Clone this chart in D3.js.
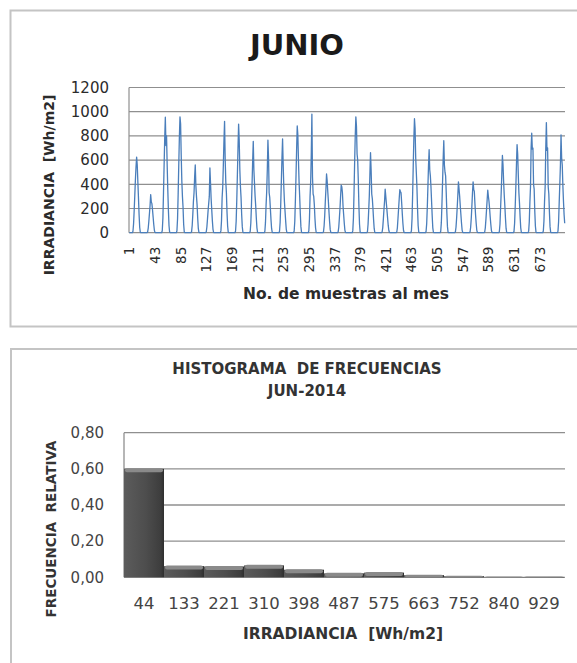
<!DOCTYPE html>
<html>
<head>
<meta charset="utf-8">
<script src="https://cdn.jsdelivr.net/npm/d3@7"></script>
<style>
  html, body { margin: 0; padding: 0; background: #ffffff; }
  svg { display: block; font-family: "DejaVu Sans", "Liberation Sans", sans-serif; }
</style>
</head>
<body>
<svg id="chart" width="577" height="663"></svg>
<script>
// Hourly irradiance for June 2014 [Wh/m2], one array per day (hours 0-23)
const day01 = [0,0,0,0,0,0,12,75,185,310,440,545,625,560,420,290,150,45,4,0,0,0,0,0];
const day02 = [0,0,0,0,0,0,6,38,95,160,225,315,255,240,190,130,70,22,2,0,0,0,0,0];
const day03 = [0,0,0,0,0,0,18,120,330,560,780,955,720,800,560,360,190,60,6,0,0,0,0,0];
const day04 = [0,0,0,0,0,0,16,115,320,560,790,958,900,640,430,300,210,70,6,0,0,0,0,0];
const day05 = [0,0,0,0,0,0,9,60,150,260,330,460,560,390,300,230,120,35,3,0,0,0,0,0];
const day06 = [0,0,0,0,0,0,7,45,110,180,240,300,535,410,280,190,100,30,3,0,0,0,0,0];
const day07 = [0,0,0,0,0,0,15,100,290,380,560,760,920,610,420,330,170,55,5,0,0,0,0,0];
const day08 = [0,0,0,0,0,0,14,95,270,480,700,898,760,520,380,290,150,50,5,0,0,0,0,0];
const day09 = [0,0,0,0,0,0,12,80,220,400,590,755,520,410,300,220,120,40,4,0,0,0,0,0];
const day10 = [0,0,0,0,0,0,12,85,230,340,520,765,620,330,290,200,110,35,4,0,0,0,0,0];
const day11 = [0,0,0,0,0,0,12,85,240,430,620,775,560,380,260,180,100,30,3,0,0,0,0,0];
const day12 = [0,0,0,0,0,0,14,95,270,470,690,882,810,600,420,300,160,50,5,0,0,0,0,0];
const day13 = [0,0,0,0,0,0,16,110,300,420,650,980,460,320,300,230,120,40,4,0,0,0,0,0];
const day14 = [0,0,0,0,0,0,8,55,140,260,360,485,430,340,260,170,90,25,2,0,0,0,0,0];
const day15 = [0,0,0,0,0,0,7,45,120,200,300,392,380,330,220,150,80,22,2,0,0,0,0,0];
const day16 = [0,0,0,0,0,0,17,120,330,580,800,958,880,650,600,430,220,70,6,0,0,0,0,0];
const day17 = [0,0,0,0,0,0,10,70,180,300,480,662,520,320,280,200,110,35,3,0,0,0,0,0];
const day18 = [0,0,0,0,0,0,6,40,110,190,260,360,300,240,180,120,60,18,2,0,0,0,0,0];
const day19 = [0,0,0,0,0,0,6,40,120,200,280,355,340,330,250,160,80,20,2,0,0,0,0,0];
const day20 = [0,0,0,0,0,0,16,115,320,560,780,942,860,620,500,380,200,60,6,0,0,0,0,0];
const day21 = [0,0,0,0,0,0,11,75,210,380,560,686,520,470,380,260,140,40,4,0,0,0,0,0];
const day22 = [0,0,0,0,0,0,12,85,240,420,610,760,560,500,470,330,170,50,5,0,0,0,0,0];
const day23 = [0,0,0,0,0,0,7,45,120,210,310,420,360,300,220,150,80,22,2,0,0,0,0,0];
const day24 = [0,0,0,0,0,0,7,45,120,220,330,420,360,340,240,150,80,22,2,0,0,0,0,0];
const day25 = [0,0,0,0,0,0,6,40,110,190,270,352,300,260,200,130,70,18,2,0,0,0,0,0];
const day26 = [0,0,0,0,0,0,10,70,200,330,480,638,560,420,310,220,120,35,3,0,0,0,0,0];
const day27 = [0,0,0,0,0,0,11,80,220,380,560,728,650,480,330,240,130,40,4,0,0,0,0,0];
const day28 = [0,0,0,0,0,0,13,90,250,380,700,822,690,700,400,360,180,55,5,0,0,0,0,0];
const day29 = [0,0,0,0,0,0,14,95,260,380,700,910,680,700,380,320,170,50,5,0,0,0,0,0];
const day30 = [0,0,0,0,0,0,13,90,250,400,560,808,620,560,390,260,150,78];

const days = [day01, day02, day03, day04, day05, day06, day07, day08, day09, day10,
              day11, day12, day13, day14, day15, day16, day17, day18, day19, day20,
              day21, day22, day23, day24, day25, day26, day27, day28, day29, day30];
const irradiance = days.flat();

// Axis ticks of the monthly series
const irrTicks = [0, 200, 400, 600, 800, 1000, 1200];
const irrTickLabels = ["0","200","400","600","800","1000","1200"];
const sampleTickLabels = ["1","43","85","127","169","211","253","295","337","379",
                          "421","463","505","547","589","631","673"];

// Relative frequency histogram
const binLabels = ["44","133","221","310","398","487","575","663","752","840","929"];
const relFreq   = [0.600, 0.062, 0.060, 0.066, 0.042, 0.022, 0.026, 0.012, 0.006, 0.001, 0.002];
const freqTicks = [0, 0.2, 0.4, 0.6, 0.8];
const freqTickLabels = ["0,00","0,20","0,40","0,60","0,80"];

const svg = d3.select("#chart");
const gridColor = "#8f8f8f";
const textColor = "#2b2b2b";

// ---------- panel frames ----------
svg.append("rect").attr("x", 10.5).attr("y", 10.5).attr("width", 620).attr("height", 316)
  .attr("fill", "#fff").attr("stroke", "#c4c4c4").attr("stroke-width", 2);
svg.append("rect").attr("x", 11).attr("y", 349).attr("width", 620).attr("height", 340)
  .attr("fill", "#fff").attr("stroke", "#c4c4c4").attr("stroke-width", 2);

// ---------- monthly irradiance line ----------
const lineG = svg.append("g");
const xS = d3.scaleBand().domain(d3.range(irradiance.length)).range([129, 565]).padding(0);
const yS = d3.scaleLinear().domain([0, 1200]).range([232.7, 87.5]);
const bw = xS.bandwidth();

lineG.append("g").selectAll("line").data(irrTicks).join("line")
  .attr("x1", 129).attr("x2", 565)
  .attr("y1", d => yS(d)).attr("y2", d => yS(d))
  .attr("stroke", gridColor).attr("stroke-width", 1.2);
lineG.append("line").attr("x1", 129).attr("x2", 129).attr("y1", yS(1200)).attr("y2", yS(0))
  .attr("stroke", gridColor).attr("stroke-width", 1.2);

lineG.append("path").datum(irradiance)
  .attr("fill", "none").attr("stroke", "#4a7ebb").attr("stroke-width", 1.3)
  .attr("stroke-linejoin", "round")
  .attr("d", d3.line().x((d, i) => xS(i) + bw / 2).y(d => yS(d)));

const yAxTop = lineG.append("g").attr("transform", "translate(129,0)")
  .call(d3.axisLeft(yS).tickValues(irrTicks).tickSize(0).tickPadding(20)
    .tickFormat((d, i) => irrTickLabels[i]));
yAxTop.select(".domain").remove();
yAxTop.selectAll("text").attr("font-size", 15).attr("fill", textColor)
  .attr("font-family", "DejaVu Sans");

const tickIdx = sampleTickLabels.map(s => +s - 1);
const xAxTop = lineG.append("g").attr("transform", `translate(0,${yS(0)})`)
  .call(d3.axisBottom(xS).tickValues(tickIdx).tickSize(0).tickFormat(i => sampleTickLabels[tickIdx.indexOf(i)]));
xAxTop.select(".domain").remove();
xAxTop.selectAll("text")
  .attr("transform", "rotate(-90)")
  .attr("x", -14).attr("y", 0).attr("dy", "0.36em")
  .attr("text-anchor", "end")
  .attr("font-size", 13.5).attr("fill", textColor).attr("font-family", "DejaVu Sans");

lineG.append("text").attr("x", 297).attr("y", 55).attr("text-anchor", "middle")
  .attr("font-size", 29).attr("font-weight", "bold").attr("fill", "#1a1a1a").text("JUNIO");
lineG.append("text").attr("x", 346).attr("y", 299).attr("text-anchor", "middle")
  .attr("font-size", 15.5).attr("font-weight", "bold").attr("fill", textColor)
  .text("No. de muestras al mes");
lineG.append("text").attr("transform", "translate(54,185) rotate(-90)")
  .attr("text-anchor", "middle").style("white-space", "pre")
  .attr("font-size", 14).attr("font-weight", "bold").attr("fill", textColor)
  .text("IRRADIANCIA  [Wh/m2]");

// ---------- histogram ----------
const histG = svg.append("g");
const xB = d3.scaleBand().domain(binLabels).range([124, 564]).padding(0);
const yB = d3.scaleLinear().domain([0, 0.8]).range([577.3, 432.7]);

const defs = svg.append("defs");
const grad = defs.append("linearGradient").attr("id", "barShade")
  .attr("x1", "0%").attr("x2", "100%").attr("y1", "0%").attr("y2", "0%");
grad.append("stop").attr("offset", "0%").attr("stop-color", "#5c5c5c");
grad.append("stop").attr("offset", "55%").attr("stop-color", "#4d4d4d");
grad.append("stop").attr("offset", "92%").attr("stop-color", "#3d3d3d");
grad.append("stop").attr("offset", "100%").attr("stop-color", "#2e2e2e");

histG.append("g").selectAll("line").data(freqTicks).join("line")
  .attr("x1", 124).attr("x2", 565)
  .attr("y1", d => yB(d)).attr("y2", d => yB(d))
  .attr("stroke", gridColor).attr("stroke-width", 1.3);
histG.append("line").attr("x1", 124).attr("x2", 124).attr("y1", yB(0.8)).attr("y2", yB(0))
  .attr("stroke", gridColor).attr("stroke-width", 1.3);

const bars = histG.append("g").selectAll("g").data(binLabels).join("g");
bars.append("rect")
  .attr("x", d => xB(d)).attr("width", xB.bandwidth())
  .attr("y", (d, i) => yB(relFreq[i]))
  .attr("height", (d, i) => yB(0) - yB(relFreq[i]))
  .attr("fill", "url(#barShade)");
bars.append("rect")
  .attr("x", d => xB(d) + 1).attr("width", xB.bandwidth() - 2)
  .attr("y", (d, i) => yB(relFreq[i]) - 0.5)
  .attr("height", (d, i) => Math.min(4, yB(0) - yB(relFreq[i]) + 0.5))
  .attr("rx", 2)
  .attr("fill", "#8a8a8a");

const yAxB = histG.append("g").attr("transform", "translate(124,0)")
  .call(d3.axisLeft(yB).tickValues(freqTicks).tickSize(0).tickPadding(20)
    .tickFormat((d, i) => freqTickLabels[i]));
yAxB.select(".domain").remove();
yAxB.selectAll("text").attr("font-size", 15).attr("fill", "#444")
  .attr("font-family", "DejaVu Sans");

const xAxB = histG.append("g").attr("transform", `translate(0,${yB(0)})`)
  .call(d3.axisBottom(xB).tickSize(0));
xAxB.select(".domain").remove();
xAxB.selectAll("text").attr("y", 21).attr("dy", "0.71em")
  .attr("transform", "scale(1.1,1)")
  .attr("font-size", 15).attr("fill", "#444").attr("font-family", "DejaVu Sans");

histG.append("text").attr("x", 307).attr("y", 374).attr("text-anchor", "middle").style("white-space", "pre")
  .attr("font-size", 15).attr("font-weight", "bold").attr("fill", "#333")
  .text("HISTOGRAMA  DE FRECUENCIAS");
histG.append("text").attr("x", 307).attr("y", 396).attr("text-anchor", "middle")
  .attr("font-size", 15).attr("font-weight", "bold").attr("fill", "#333")
  .text("JUN-2014");
histG.append("text").attr("x", 343).attr("y", 639).attr("text-anchor", "middle").style("white-space", "pre")
  .attr("font-size", 15.5).attr("font-weight", "bold").attr("fill", "#333")
  .text("IRRADIANCIA  [Wh/m2]");
histG.append("text").attr("transform", "translate(56,529) rotate(-90)")
  .attr("text-anchor", "middle").style("white-space", "pre")
  .attr("font-size", 13.5).attr("font-weight", "bold").attr("fill", "#333")
  .text("FRECUENCIA  RELATIVA");
</script>
</body>
</html>
